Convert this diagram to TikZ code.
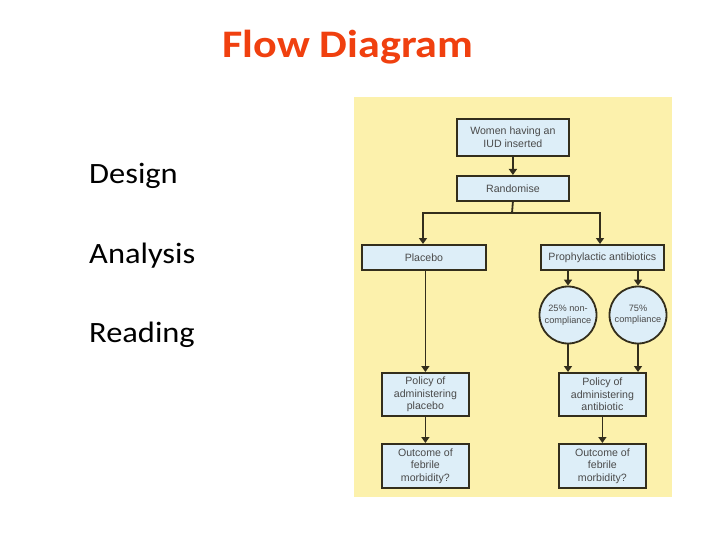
\documentclass[tikz,border=0pt]{standalone}
\usepackage{fontspec}
\setmainfont{Carlito}
\newfontfamily\boxfont{Liberation Sans}
\usetikzlibrary{arrows.meta}
\definecolor{titlered}{HTML}{F0400F}
\definecolor{panelyellow}{HTML}{FCF1AC}
\definecolor{boxblue}{HTML}{DDEEF8}
\definecolor{lineclr}{HTML}{332E1C}
\definecolor{boxtext}{HTML}{4A4A4A}
\tikzset{
  fbox/.style={draw=lineclr, line width=1.8pt, fill=boxblue, inner sep=0pt, anchor=north west,
    font=\boxfont\fontsize{10.6}{12.6}\selectfont, text=boxtext, align=center},
  fcirc/.style={draw=lineclr, line width=1.8pt, fill=boxblue, circle, minimum size=57pt, inner sep=0pt,
    font=\boxfont\fontsize{9.2}{11.5}\selectfont, text=boxtext, align=center},
  conn/.style={draw=lineclr, line width=1.8pt},
  arr/.style={conn, -{Triangle[length=6pt,width=8pt]}},
  sidetext/.style={anchor=base west, font=\fontsize{29.5}{32}\selectfont, inner sep=0pt,
    transform shape, xscale=1.1}
}
\begin{document}
\begin{tikzpicture}[x=1pt,y=-1pt]
\useasboundingbox (0,0) rectangle (720,540);
\fill[white] (0,0) rectangle (720,540);
\node[anchor=base, font=\bfseries\fontsize{39}{41}\selectfont, text=titlered, inner sep=0pt,
  transform shape, xscale=1.13] (title) at (348,58) {Flow Diagram};
\node[sidetext] (design) at (89,184) {Design};
\node[sidetext] (analysis) at (89,263) {Analysis};
\node[sidetext] (reading) at (89,342) {Reading};
\fill[panelyellow] (354,97) rectangle (672,497);
% boxes
\node[fbox, minimum width=112pt, minimum height=37pt] (women) at (456,118) {Women having an\\IUD inserted};
\node[fbox, minimum width=112pt, minimum height=25pt] (rand) at (456,175) {Randomise};
\node[fbox, minimum width=124pt, minimum height=25pt] (placebo) at (361,244) {Placebo};
\node[fbox, minimum width=123pt, minimum height=25pt] (proph) at (540,244) {Prophylactic antibiotics};
\node[fcirc] (c25) at (568,315) {25\% non-\\compliance};
\node[fcirc] (c75) at (638,315) {75\%\\compliance};
\node[fbox, minimum width=87pt, minimum height=43pt] (polp) at (381,372) {Policy of\\administering\\placebo};
\node[fbox, minimum width=87pt, minimum height=43pt] (pola) at (558,372) {Policy of\\administering\\antibiotic};
\node[fbox, minimum width=87pt, minimum height=44pt] (outp) at (381,443) {Outcome of\\febrile\\morbidity?};
\node[fbox, minimum width=87pt, minimum height=44pt] (outa) at (558,443) {Outcome of\\febrile\\morbidity?};
% connectors
\coordinate (split) at (512,213);
\coordinate (splitL) at (423,213);
\coordinate (splitR) at (600,213);
\draw[arr] (women.south) -- (rand.north);
\draw[conn] (rand.south) -- (split);
\draw[conn, line cap=rect] (splitL) -- (splitR);
\draw[arr] (splitL) -- (placebo.north -| splitL);
\draw[arr] (splitR) -- (proph.north -| splitR);
\draw[arr] (proph.south -| c25) -- (c25.north);
\draw[arr] (proph.south -| c75) -- (c75.north);
\draw[arr] (c25.south) -- (pola.north -| c25);
\draw[arr] (c75.south) -- (pola.north -| c75);
\draw[arr] (placebo.south -| polp) -- (polp.north);
\draw[arr] (polp.south) -- (outp.north);
\draw[arr] (pola.south -| outa) -- (outa.north);
\end{tikzpicture}
\end{document}
